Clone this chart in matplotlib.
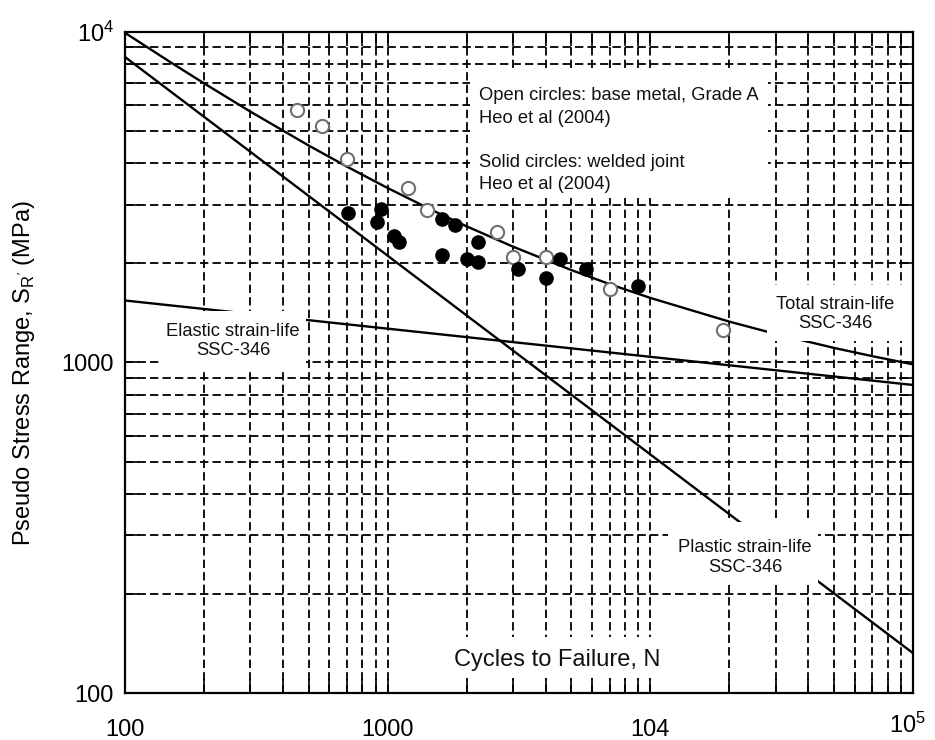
import matplotlib
matplotlib.use("Agg")
import matplotlib.pyplot as plt
from matplotlib.ticker import FixedLocator, FixedFormatter, NullFormatter
from matplotlib.patches import Rectangle
from matplotlib.transforms import ScaledTranslation

plt.rcParams["font.family"] = ["Liberation Sans", "DejaVu Sans"]
plt.rcParams["lines.scale_dashes"] = False

# ---- data -------------------------------------------------------------
# straight strain-life components (log-log), end points
line_N = [100, 100000]
elastic_S = [1540, 855]
plastic_S = [8400, 132]

# total strain-life curve (elastic + plastic)
total_N = [100, 150, 200, 300, 500, 700, 1000, 1500, 2000, 3000, 5000,
           7000, 10000, 20000, 30000, 50000, 70000, 100000]
total_S = [9940, 8072, 6991, 5743, 4535, 3913, 3371, 2873, 2581, 2241, 1904,
           1726, 1568, 1329, 1220, 1107, 1045, 987]

# Heo et al (2004): base metal, Grade A (open circles)
base_N = [450, 560, 700, 1195, 1410, 2600, 3000, 4000, 7000, 18900]
base_S = [5800, 5200, 4130, 3370, 2890, 2480, 2090, 2090, 1670, 1250]

# Heo et al (2004): welded joint (solid circles)
weld_N = [706, 943, 911, 1057, 1104, 1609, 1804, 1609, 2004, 2207, 2207,
          3133, 4004, 4527, 5688, 8970]
weld_S = [2830, 2910, 2660, 2410, 2320, 2720, 2610, 2120, 2060, 2010, 2320,
          1920, 1800, 2060, 1920, 1700]

x_ticks = [100, 1000, 10000, 100000]
x_tick_labels = ["100", "1000", "104", r"$\mathregular{10^5}$"]
y_ticks = [100, 1000, 10000]
y_tick_labels = ["100", "1000", r"$\mathregular{10^4}$"]
minor_x = [m * d for d in (100, 1000, 10000) for m in range(2, 10)]
minor_y = [m * d for d in (100, 1000) for m in range(2, 10)]

# ---- figure -----------------------------------------------------------
fig = plt.figure(figsize=(9.35, 7.4), dpi=100)
ax = fig.add_axes([0.1337, 0.0635, 0.8428, 0.8933])
ax.set_xscale("log")
ax.set_yscale("log")
ax.set_xlim(100, 100000)
ax.set_ylim(100, 10000)
ax.set_axisbelow(True)

ax.xaxis.set_major_locator(FixedLocator(x_ticks))
ax.xaxis.set_major_formatter(FixedFormatter(x_tick_labels))
ax.xaxis.set_minor_locator(FixedLocator(minor_x))
ax.xaxis.set_minor_formatter(NullFormatter())
ax.yaxis.set_major_locator(FixedLocator(y_ticks))
ax.yaxis.set_major_formatter(FixedFormatter(y_tick_labels))
ax.yaxis.set_minor_locator(FixedLocator(minor_y))
ax.yaxis.set_minor_formatter(NullFormatter())

ax.tick_params(which="both", direction="in", top=True, right=True,
               length=10, width=1.2, color="black")
ax.tick_params(axis="x", which="major", labelsize=17, pad=19)
ax.tick_params(axis="y", which="major", labelsize=17, pad=8)

ax.grid(which="both", linestyle=(0, (6, 3)), linewidth=1.3, color="black")
for sp in ax.spines.values():
    sp.set_linewidth(1.6)

# strain-life curves
ax.plot(total_N, total_S, color="black", lw=1.7, zorder=2)
ax.plot(line_N, elastic_S, color="black", lw=1.7, zorder=2)
ax.plot(line_N, plastic_S, color="black", lw=1.7, zorder=2)

# test data
ax.plot(base_N, base_S, linestyle="none", marker="o", markersize=9.5,
        markerfacecolor="white", markeredgecolor="#707070",
        markeredgewidth=1.5, zorder=3)
ax.plot(weld_N, weld_S, linestyle="none", marker="o", markersize=9.5,
        markerfacecolor="black", markeredgecolor="black", zorder=3)

# white panels behind the annotations
panels = [
    (0.4378, 0.7489, 0.3782, 0.1966),   # data-source note
    (0.8147, 0.5325, 0.1840, 0.0848),   # total strain-life
    (0.0444, 0.4887, 0.1853, 0.0892),   # elastic strain-life
    (0.6891, 0.1634, 0.1903, 0.0953),   # plastic strain-life
    (0.3997, 0.0227, 0.2983, 0.0620),   # x-axis title
]
for x0, y0, w, h in panels:
    ax.add_patch(Rectangle((x0, y0), w, h, transform=ax.transAxes,
                           facecolor="white", edgecolor="none", zorder=2.2))

note_lines = [("Open circles: base metal, Grade A", 0.9032),
              ("Heo et al (2004)", 0.8684),
              ("Solid circles: welded joint", 0.8018),
              ("Heo et al (2004)", 0.7700)]
for txt, yy in note_lines:
    ax.text(0.4492, yy, txt, transform=ax.transAxes, fontsize=13.2,
            ha="left", va="center", color="#111111", zorder=2.3)

ax.text(0.901, 0.5734, "Total strain-life\nSSC-346", transform=ax.transAxes,
        fontsize=13.2, ha="center", va="center", multialignment="center",
        color="#111111", zorder=2.3)
ax.text(0.137, 0.5325, "Elastic strain-life\nSSC-346", transform=ax.transAxes,
        fontsize=13.2, ha="center", va="center", multialignment="center",
        color="#111111", zorder=2.3)
ax.text(0.787, 0.205, "Plastic strain-life\nSSC-346", transform=ax.transAxes,
        fontsize=13.2, ha="center", va="center", multialignment="center",
        color="#111111", zorder=2.3)
ax.text(0.548, 0.050, "Cycles to Failure, N", transform=ax.transAxes,
        fontsize=17, ha="center", va="center", color="#111111", zorder=2.3)

ax.set_ylabel(r"Pseudo Stress Range, S$_{\mathregular{R'}}$ (MPa)", fontsize=17)
ax.yaxis.set_label_coords(-0.112, 0.484)

# the last x tick label carries a superscript: lift it so its digits sit
# on the same line as the others, and keep it inside the canvas
last = ax.xaxis.get_major_ticks()[-1].label1
last.set_transform(last.get_transform()
                   + ScaledTranslation(-6 / 100, 7 / 100, fig.dpi_scale_trans))

fig.savefig("out.png", dpi=100)
